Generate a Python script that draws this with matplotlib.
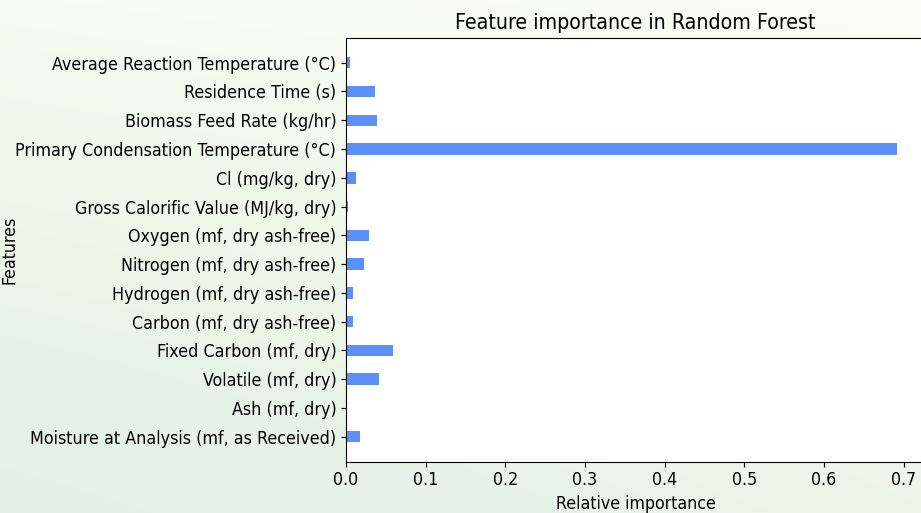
import numpy as np
import matplotlib
matplotlib.use("Agg")
import matplotlib.pyplot as plt
from matplotlib.colors import LinearSegmentedColormap

# Feature names, bottom to top as they appear on the axis
features = [
    "Moisture at Analysis (mf, as Received)",
    "Ash (mf, dry)",
    "Volatile (mf, dry)",
    "Fixed Carbon (mf, dry)",
    "Carbon (mf, dry ash-free)",
    "Hydrogen (mf, dry ash-free)",
    "Nitrogen (mf, dry ash-free)",
    "Oxygen (mf, dry ash-free)",
    "Gross Calorific Value (MJ/kg, dry)",
    "Cl (mg/kg, dry)",
    "Primary Condensation Temperature (°C)",
    "Biomass Feed Rate (kg/hr)",
    "Residence Time (s)",
    "Average Reaction Temperature (°C)",
]
importance = [0.017, 0.001, 0.041, 0.059, 0.009, 0.009, 0.023,
              0.029, 0.003, 0.013, 0.692, 0.039, 0.037, 0.005]

plt.rcParams['font.family'] = 'DejaVu Sans'
plt.rcParams['font.stretch'] = 'condensed'

fig = plt.figure(figsize=(9.21, 5.13), dpi=100)

# soft green background behind everything
bg = fig.add_axes([0, 0, 1, 1], zorder=-10)
yy, xx = np.mgrid[0:1:200j, 0:1:300j]
shade = 0.55 * yy + 0.45 * (1 - xx) * (0.4 + 0.6 * yy)
cmap = LinearSegmentedColormap.from_list("bg", ["#fcfdf6", "#eef7e9", "#e2f0e8"])
bg.imshow(shade, cmap=cmap, aspect='auto', extent=[0, 1, 0, 1], vmin=0, vmax=1)
bg.axis('off')

ax = fig.add_axes([0.3757, 0.1, 0.6285, 0.8265])
ax.barh(np.arange(len(features)), importance, height=0.4, color='#5b8ff9')
ax.set_yticks(np.arange(len(features)))
ax.set_yticklabels(features, fontsize=12.8)
ax.tick_params(axis='x', labelsize=12.7)
ax.set_title("Feature importance in Random Forest", fontsize=15.3)
ax.set_xlabel("Relative importance", fontsize=12.7)
ax.set_ylabel("Features", fontsize=12.7)
ax.yaxis.set_label_coords(-0.566, 0.5)

fig.savefig("out.png", dpi=100)
